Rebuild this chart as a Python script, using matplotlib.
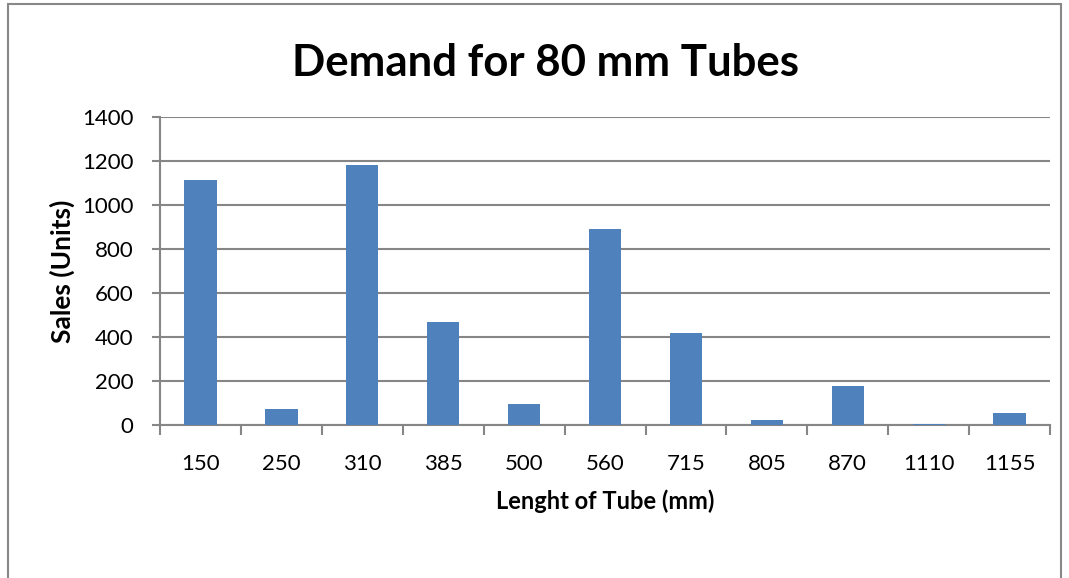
import numpy as np
import matplotlib.pyplot as plt
from matplotlib.patches import Rectangle

# Tube lengths (mm) and units sold
lengths = ["150", "250", "310", "385", "500", "560", "715", "805", "870", "1110", "1155"]
sales = [1115, 71, 1180, 470, 95, 890, 418, 23, 177, 6, 56]

plt.rcParams['font.family'] = ['Lato', 'DejaVu Sans']

fig = plt.figure(figsize=(10.69, 5.78), dpi=100)
ax = fig.add_axes([0.1497, 0.2647, 0.8326, 0.533])

# chart border
fig.patches.append(Rectangle((0.0075, -0.01), 0.985, 1.003, transform=fig.transFigure,
                             fill=False, edgecolor='#888888', linewidth=1.5))

x = np.arange(len(lengths))
ax.bar(x, sales, width=0.4, color='#4F81BD', zorder=3)

ax.set_xlim(-0.5, len(lengths) - 0.5)
ax.set_ylim(0, 1400)
ax.set_yticks(np.arange(0, 1401, 200))
ax.yaxis.grid(True, color='#868686', linewidth=1.5, zorder=0)

# category ticks sit between the bars
ax.set_xticks(np.arange(-0.5, len(lengths), 1.0))
ax.set_xticklabels([])
ax.set_xticks(x, minor=True)
ax.set_xticklabels(lengths, minor=True)
ax.tick_params(axis='x', which='major', length=7, width=1.5, color='#868686', direction='out')
ax.tick_params(axis='x', which='minor', length=0, pad=21, labelsize=16)
ax.tick_params(axis='y', length=6, width=1.5, color='#868686', labelsize=16, pad=13)

for side in ['top', 'right']:
    ax.spines[side].set_visible(False)
for side in ['left', 'bottom']:
    ax.spines[side].set_color('#868686')
    ax.spines[side].set_linewidth(1.5)

fig.text(0.51, 0.891, "Demand for 80 mm Tubes", fontsize=31.5, fontweight='bold',
         ha='center', va='center')
ax.set_xlabel("Lenght of Tube (mm)", fontsize=17, fontweight='bold', labelpad=11)
ax.set_ylabel("Sales (Units)", fontsize=19, fontweight='bold', labelpad=5)

fig.savefig("out.png", dpi=100)
